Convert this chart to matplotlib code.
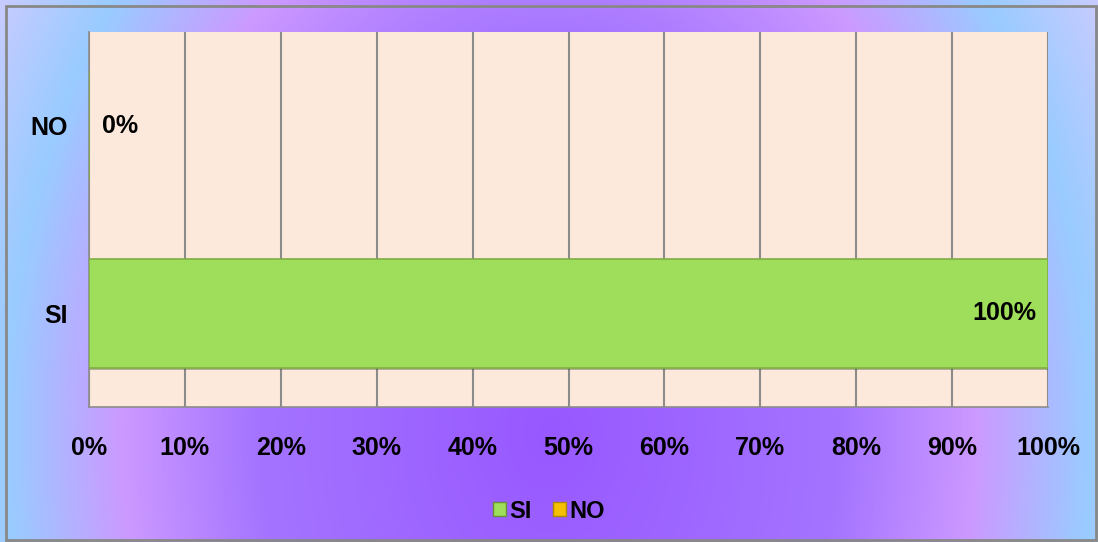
import numpy as np
import matplotlib.pyplot as plt
from matplotlib.colors import LinearSegmentedColormap
from matplotlib.patches import Rectangle
import matplotlib.patheffects as pe

plt.rcParams['font.family'] = ['Liberation Sans', 'DejaVu Sans']
plt.rcParams['font.weight'] = 'bold'

categories = ['SI', 'NO']
values = [100, 0]
labels = ['100%', '0%']
bar_colors = ['#9ede5a', '#f5c000']
xticks = list(range(0, 101, 10))

fig = plt.figure(figsize=(10.98, 5.42), dpi=100)

# background gradient (purple centre low in the middle, pale blue / lavender towards the edges)
bg = fig.add_axes([0, 0, 1, 1], zorder=-10)
bg.set_axis_off()
yy, xx = np.mgrid[0:1:300j, 0:1:600j]
r = np.sqrt(((xx - 0.5) / 0.59) ** 2 + ((yy - 0.2) / 1.6) ** 2)
cmap = LinearSegmentedColormap.from_list('bg', [(0, '#9858ff'), (0.45, '#a474ff'), (0.66, '#cc99ff'),
                                                (0.84, '#99ccff'), (1.0, '#cccbff')])
bg.imshow(np.clip(r, 0, 1), cmap=cmap, extent=[0, 1, 0, 1], aspect='auto', vmin=0, vmax=1, origin='lower')
bg.set_xlim(0, 1)
bg.set_ylim(0, 1)
fig.patches.append(Rectangle((6 / 1098, 2 / 542), 1 - 8 / 1098, 1 - 8 / 542, transform=fig.transFigure,
                             fill=False, edgecolor='#888888', linewidth=2, zorder=5))

ax = fig.add_axes([89 / 1098, 1 - 407 / 542, (1048 - 89) / 1098, (407 - 32) / 542])
ax.set_facecolor('#fce9db')
y = np.arange(len(categories))
bars = ax.barh(y, values, height=0.58, color=bar_colors, edgecolor='#7fae45', linewidth=1.2, zorder=3)
for b in bars:
    b.set_path_effects([pe.SimplePatchShadow(offset=(1, -2), alpha=0.35), pe.Normal()])

ax.set_xlim(0, 100)
ax.set_ylim(-0.5, 1.5)
ax.set_yticks(y)
ax.set_yticklabels(categories, fontsize=18, fontweight='bold')
ax.set_xticks(xticks)
ax.set_xticklabels([f'{t}%' for t in xticks], fontsize=18, fontweight='bold')
ax.tick_params(length=0, pad=15, axis='y')
ax.tick_params(length=0, pad=21, axis='x')
ax.xaxis.grid(True, color='#8c8c8c', linewidth=1.5, zorder=1)
for s in ['top', 'right']:
    ax.spines[s].set_visible(False)
for s in ['left', 'bottom']:
    ax.spines[s].set_color('#8c8c8c')
    ax.spines[s].set_linewidth(1.2)

for yi, v, lab in zip(y, values, labels):
    if v > 0:
        ax.text(v - 1.2, yi, lab, ha='right', va='center', fontsize=18, fontweight='bold', zorder=4)
    else:
        ax.text(v + 1.4, yi, lab, ha='left', va='center', fontsize=18, fontweight='bold', zorder=4)

handles = [Rectangle((0, 0), 1, 1, facecolor=c, edgecolor='#6a8f3a' if i == 0 else '#b08a00')
           for i, c in enumerate(bar_colors)]
fig.legend(handles, categories, loc='center', bbox_to_anchor=(0.5, 1 - 511 / 542), ncol=2, frameon=False,
           prop={'size': 17, 'weight': 'bold'}, handlelength=0.55, handleheight=0.55, handletextpad=0.15,
           columnspacing=0.9)

fig.savefig('out.png', dpi=100)
